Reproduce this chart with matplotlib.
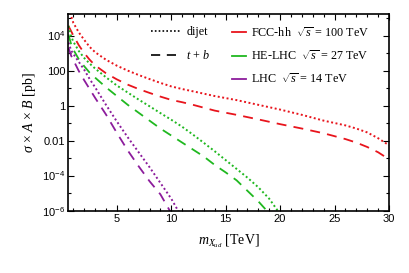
import numpy as np
import matplotlib
matplotlib.use("Agg")
import matplotlib.pyplot as plt
from matplotlib.lines import Line2D
from matplotlib.ticker import FixedLocator, NullFormatter

plt.rcParams['mathtext.fontset'] = 'custom'
plt.rcParams['mathtext.rm'] = 'Liberation Sans'
plt.rcParams['mathtext.it'] = 'Liberation Serif:italic'
plt.rcParams['font.family'] = ['Liberation Sans', 'DejaVu Sans']

# masses in TeV, cross sections stored as log10(pb)
m_fcc_dijet = [0.7, 1.0, 1.5, 2.0, 2.5, 3, 4, 5, 6, 7, 8, 9, 10, 11, 12, 14, 16, 18, 20, 22, 24, 26, 27, 28, 29, 30]
lg_fcc_dijet = [5.3, 4.72, 4.18, 3.75, 3.35, 3.05, 2.62, 2.28, 2.0, 1.75, 1.52, 1.3, 1.1, 0.95, 0.82, 0.55, 0.32,
                0.05, -0.22, -0.52, -0.85, -1.12, -1.3, -1.52, -1.85, -2.25]

m_fcc_tb = [0.55, 1.0, 1.5, 2.0, 2.5, 3, 4, 5, 6, 7, 8, 9, 10, 11, 12, 14, 16, 18, 20, 22, 24, 26, 27, 28, 29, 30]
lg_fcc_tb = [4.55, 4.0, 3.45, 3.0, 2.62, 2.3, 1.85, 1.5, 1.2, 0.95, 0.73, 0.52, 0.33, 0.2, 0.05, -0.28, -0.52,
             -0.78, -1.05, -1.3, -1.57, -1.9, -2.1, -2.35, -2.65, -3.05]

m_he_dijet = [0.55, 0.8, 1.0, 1.5, 2.0, 2.5, 3, 4, 5, 6, 7, 8, 9, 10, 11, 12, 13, 14, 15, 16, 17, 18, 19, 19.8, 20.1]
lg_he_dijet = [4.55, 3.95, 3.65, 3.12, 2.72, 2.4, 2.12, 1.62, 1.15, 0.75, 0.35, -0.03, -0.42, -0.8, -1.2, -1.65,
               -2.12, -2.6, -3.1, -3.6, -4.1, -4.65, -5.3, -6.0, -6.3]

m_he_tb = [0.55, 0.8, 1.0, 1.5, 2.0, 2.5, 3, 4, 5, 6, 7, 8, 9, 10, 11, 12, 13, 14, 15, 16, 17, 18, 18.8, 19.1]
lg_he_tb = [4.05, 3.5, 3.2, 2.65, 2.25, 1.88, 1.6, 1.05, 0.55, 0.05, -0.4, -0.85, -1.3, -1.7, -2.1, -2.5, -2.9,
            -3.38, -3.8, -4.25, -4.85, -5.45, -6.0, -6.3]

m_lhc_dijet = [0.55, 0.8, 1.0, 1.5, 2.0, 2.5, 3, 4, 5, 6, 7, 8, 9, 10, 10.64, 10.9]
lg_lhc_dijet = [3.6, 3.15, 2.95, 2.5, 2.05, 1.52, 1.05, 0.05, -0.9, -1.8, -2.65, -3.5, -4.4, -5.3, -6.0, -6.3]

m_lhc_tb = [0.55, 0.8, 1.0, 1.5, 2.0, 2.5, 3, 4, 5, 6, 7, 8, 9, 9.88, 10.1]
lg_lhc_tb = [3.3, 2.85, 2.6, 1.98, 1.45, 0.95, 0.45, -0.5, -1.55, -2.55, -3.45, -4.3, -5.05, -6.0, -6.3]

colliders = ["FCC-hh", "HE-LHC", "LHC"]
energies = ["100", "27", "14"]
colors = ["#e8141c", "#20b820", "#8c1c9c"]

ytick_vals = [1e-6, 1e-4, 1e-2, 1, 1e2, 1e4]
ytick_labels = ["$10^{-6}$", "$10^{-4}$", "0.01", "1", "100", "$10^{4}$"]

dot_style = (0, (1.0, 1.3))
dash_style = (0, (5.5, 4.0))

fig = plt.figure(figsize=(4.09, 2.73), dpi=100)
ax = fig.add_axes([0.166, 0.227, 0.785, 0.722])

curves = [
    (m_fcc_dijet, lg_fcc_dijet, m_fcc_tb, lg_fcc_tb),
    (m_he_dijet, lg_he_dijet, m_he_tb, lg_he_tb),
    (m_lhc_dijet, lg_lhc_dijet, m_lhc_tb, lg_lhc_tb),
]
for (md, ld, mt, lt), c in zip(curves, colors):
    ax.plot(md, 10.0 ** np.array(ld), color=c, lw=1.4, linestyle=dot_style)
    ax.plot(mt, 10.0 ** np.array(lt), color=c, lw=1.3, linestyle=dash_style)

ax.set_yscale('log')
ax.set_xlim(0.5, 30)
ax.set_ylim(1e-6, 1.7e5)

ax.set_xticks([5, 10, 15, 20, 25, 30])
ax.xaxis.set_minor_locator(FixedLocator(np.arange(1, 31, 1)))
ax.yaxis.set_major_locator(FixedLocator(ytick_vals))
ax.set_yticklabels(ytick_labels)
ax.yaxis.set_minor_locator(FixedLocator([1e-5, 1e-3, 1e-1, 1e1, 1e3, 1e5]))
ax.yaxis.set_minor_formatter(NullFormatter())

ax.tick_params(which='both', direction='in', top=True, right=True, labelsize=8, width=0.8, pad=2)
ax.tick_params(which='major', length=4)
ax.tick_params(which='minor', length=2.5)
for sp in ax.spines.values():
    sp.set_linewidth(1.2)

ax.set_xlabel(r"$m_{X_{ud}}$ [TeV]", family='Liberation Serif', fontsize=10, labelpad=6)
ax.set_ylabel(r"$\sigma$ × $A$ × $B$ [pb]", family='Liberation Serif', fontsize=10, labelpad=3)

style_handles = [Line2D([], [], color='black', lw=1.2, linestyle=dot_style),
                 Line2D([], [], color='black', lw=1.2, linestyle=dash_style)]
leg1 = ax.legend(style_handles, ["dijet", r"$t$ + $b$"], loc='upper left', bbox_to_anchor=(0.26, 0.94),
                 frameon=False, prop={'family': 'Liberation Serif', 'size': 8.7}, handlelength=2.4,
                 handletextpad=0.5, labelspacing=0.95, borderpad=0, borderaxespad=0)
ax.add_artist(leg1)

col_handles = [Line2D([], [], color=c, lw=1.3) for c in colors]
col_labels = [f"{n}  $\\sqrt{{s}}$ = {e} TeV" for n, e in zip(colliders, energies)]
ax.legend(col_handles, col_labels, loc='upper left', bbox_to_anchor=(0.51, 0.94),
          frameon=False, prop={'family': 'Liberation Serif', 'size': 8.7}, handlelength=1.2,
          handletextpad=0.4, labelspacing=0.8, borderpad=0, borderaxespad=0)

fig.savefig("out.png", dpi=100)
